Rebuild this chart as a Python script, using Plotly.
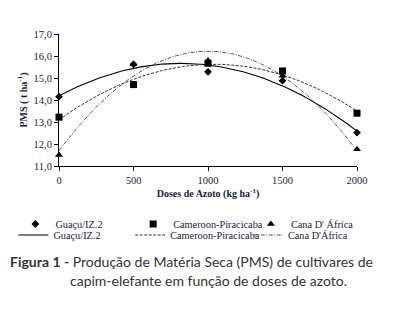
import numpy as np
import plotly.graph_objects as go

doses = [0, 500, 1000, 1500, 2000]
guacu = [14.15, 15.62, 15.28, 14.88, 12.52]
cameroon = [13.22, 14.70, 15.67, 15.32, 13.40]
cana = [11.50, 15.64, 15.80, 15.10, 11.76]

names_pts = ["Guaçu/IZ.2", "Cameroon-Piracicaba", "Cana D' África"]
names_fit = ["Guaçu/IZ.2", "Cameroon-Piracicaba", "Cana D'África"]
symbols = ["diamond", "square", "triangle-up"]
msizes = [6, 7, 7]
line_styles = [("#000000", "solid", 1.1), ("#333333", "3px,1.5px", 1.0), ("#555555", "4px,1.5px,1px,1.5px", 1.0)]

OFF = 8  # page body margin
W, H = 403 - OFF, 318 - OFF
# plot area in screen pixels
L, R, T, B = 58.7 - OFF, 357.3 - OFF, 34 - OFF, 166 - OFF
pw, ph = R - L, B - T

def px(x):
    return (x - OFF - L) / pw

def py(y):
    return (B - (y - OFF)) / ph

txt = "#1c1c3a"
serif = "Liberation Serif"

fig = go.Figure()
series = [guacu, cameroon, cana]
xs = np.linspace(0, 2000, 201)
pts_x = [15, 133, 251]
fit_x = [13, 130, 248]
for i, s in enumerate(series):
    c = np.polyfit(doses, s, 2)
    col, dash, w = line_styles[i]
    fig.add_trace(go.Scatter(x=xs, y=np.polyval(c, xs), mode="lines", name=names_fit[i],
                             line=dict(color=col, dash=dash, width=w), legend=f"legend{4 + i}"))
for i, s in enumerate(series):
    fig.add_trace(go.Scatter(x=doses, y=s, mode="markers", name=names_pts[i],
                             marker=dict(symbol=symbols[i], size=msizes[i], color="#000000"),
                             legend="legend" if i == 0 else f"legend{1 + i}", cliponaxis=False))

fig.update_layout(
    width=W, height=H,
    margin=dict(l=L, r=W - R, t=T, b=H - B, autoexpand=False),
    plot_bgcolor="white", paper_bgcolor="white",
    separators=",.",
    font=dict(family=serif, size=11, color=txt),
    xaxis=dict(range=[0, 2000], tickvals=doses, ticks="outside", ticklen=4, tickcolor="black",
               showline=True, linecolor="black", linewidth=1, showgrid=False, zeroline=False,
               automargin=False,
               tickfont=dict(family=serif, size=10.5, color=txt),
               title=dict(text="<b>Doses de Azoto (kg ha<sup>-1</sup>)</b>", standoff=5,
                          font=dict(family=serif, size=10, color=txt))),
    yaxis=dict(range=[11, 17], dtick=1, tickformat=".1f", ticks="outside", ticklen=4, tickcolor="black",
               showline=True, linecolor="black", linewidth=1, showgrid=False, zeroline=False,
               automargin=False,
               tickfont=dict(family=serif, size=10.5, color=txt),
               title=dict(text="<b>PMS ( t ha<sup>-1</sup>)</b>", standoff=4,
                          font=dict(family=serif, size=10, color=txt))),
    showlegend=True,
)

def leg(xpix, ypix):
    return dict(orientation="v", x=px(xpix), y=py(ypix), xanchor="left", yanchor="middle",
                itemwidth=30, font=dict(family=serif, size=10.3, color=txt),
                bgcolor="rgba(0,0,0,0)", borderwidth=0, itemclick=False, itemdoubleclick=False)

fig.update_layout(
    legend=leg(pts_x[0], 224), legend2=leg(pts_x[1], 224), legend3=leg(pts_x[2], 224),
    legend4=leg(fit_x[0], 235), legend5=leg(fit_x[1], 235), legend6=leg(fit_x[2], 235),
)

cap_font = dict(family="Lato", size=14, color="#333333")
fig.add_annotation(text="<b>Figura 1 -</b> Produção de Matéria Seca (PMS) de cultivares de",
                   xref="paper", yref="paper", x=px(8), y=py(261), xanchor="left", yanchor="middle",
                   showarrow=False, font=cap_font)
fig.add_annotation(text="capim-elefante em função de doses de azoto.",
                   xref="paper", yref="paper", x=px(68), y=py(280), xanchor="left", yanchor="middle",
                   showarrow=False, font=cap_font)

fig.write_html("out.html")
